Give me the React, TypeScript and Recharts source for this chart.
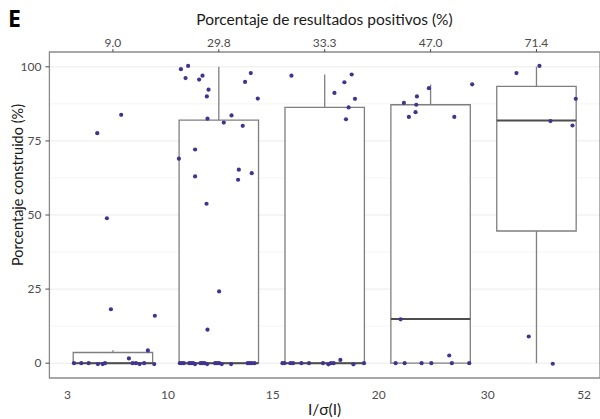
import React from 'react';
import {
  ComposedChart,
  XAxis,
  YAxis,
  CartesianGrid,
  Scatter,
  ReferenceArea,
  ReferenceLine,
} from 'recharts';

// ---- data ----
const categories = [1, 2, 3, 4, 5];
const topLabels = ['9.0', '29.8', '33.3', '47.0', '71.4'];
const bottomTickPos = [0.57, 1.52, 2.51, 3.51, 4.54, 5.45];
const bottomTickLabels = ['3', '10', '15', '20', '30', '52'];
const yTicks = [0, 25, 50, 75, 100];
const yMinorTicks = [12.5, 37.5, 62.5, 87.5];

const boxQ1 = [0, 0, 0, 0, 44.6];
const boxMedian = [0, 0, 0, 14.9, 81.9];
const boxQ3 = [3.6, 82.0, 86.3, 87.2, 93.4];
const whiskerLow = [0, 0, 0, 0, 0];
const whiskerHigh = [4.4, 100, 97.4, 94.0, 100];

// jittered points (x = category position incl. jitter, y = value)
const g1X = [0.852, 1.078, 0.943, 0.981, 1.396, 1.33, 1.151, 0.632, 0.701, 0.771, 0.858, 0.903, 0.925, 1.186, 1.217, 1.252, 1.295, 1.39];
const g1Y = [77.6, 83.8, 48.9, 18.2, 16.0, 4.3, 1.6, 0, 0, 0, -0.3, -0.3, 0, 0, 0, -0.3, 0, -0.3];

const g2X = [1.642, 1.71, 1.686, 1.814, 1.846, 1.903, 1.887, 1.893, 2.047, 2.12, 2.226, 2.302, 2.248, 2.368, 1.623, 1.776, 1.776, 1.884, 2.189, 2.182, 2.311, 2.003, 1.893,
  1.632, 1.651, 1.67, 1.72, 1.739, 1.758, 1.776, 1.827, 1.846, 1.865, 1.89, 1.965, 1.984, 2.003, 2.028, 2.116, 2.273, 2.292, 2.311, 2.337];
const g2Y = [99.2, 100.3, 96.2, 95.7, 97.0, 92.3, 90.0, 82.5, 81.2, 83.6, 80.1, 97.9, 94.9, 89.3, 69.0, 72.1, 63.0, 53.8, 65.3, 61.9, 64.1, 24.2, 11.3,
  0, 0, 0, 0, 0, 0, -0.3, 0, 0, 0, -0.3, 0, 0, 0, -0.3, -0.3, 0, 0, 0, 0];

const g3X = [2.686, 3.255, 3.186, 3.092, 3.286, 3.226, 3.201, 3.148, 2.601, 2.62, 2.676, 2.701, 2.78, 2.852, 2.984, 3.035, 3.059, 3.085, 3.271, 3.371];
const g3Y = [97.0, 97.4, 94.8, 91.2, 89.2, 86.3, 82.3, 1.1, 0, 0, 0, 0, 0, 0, 0, -0.4, 0, 0, -0.4, 0];

const g4X = [3.984, 4.393, 3.871, 3.748, 3.865, 3.858, 3.795, 4.224, 3.717, 4.176, 3.67, 3.755, 3.915, 4.007, 4.201, 4.365];
const g4Y = [92.8, 94.1, 90.0, 87.8, 87.2, 84.7, 83.1, 83.1, 14.8, 2.6, 0, 0, 0, 0, 0, 0];

const g5X = [5.028, 4.811, 5.371, 5.132, 5.34, 4.927, 5.154];
const g5Y = [100.3, 97.9, 89.2, 81.7, 80.2, 9.0, -0.2];

const groupsX = [g1X, g2X, g3X, g4X, g5X];
const groupsY = [g1Y, g2Y, g3Y, g4Y, g5Y];

// ---- styles ----
const BOX_W = 0.375;
const BOX_STROKE = '#7f7f7f';
const MEDIAN_STROKE = '#4d4d4d';
const POINT_COLOR = '#3f3590';
const GRID = '#ebebeb';
const GRID_MINOR = '#f3f3f3';
const TICK_COLOR = '#4d4d4d';
const FONT = 'Lato, "Open Sans", sans-serif';

const Dot = (props: any) => {
  const { cx, cy } = props;
  if (cx == null || cy == null) return null;
  return <circle cx={cx} cy={cy} r={2.1} fill={POINT_COLOR} />;
};

export default function App() {
  const scatterData = groupsX.map((xs, gi) => xs.map((x, i) => ({ x, y: groupsY[gi][i] })));
  return (
    <div style={{ position: 'absolute', left: 0, top: 0, width: 600, height: 419, background: '#fff', fontFamily: FONT, overflow: 'hidden' }}>
      <div style={{ position: 'absolute', left: 8, top: 2, fontSize: 23, fontWeight: 700, fontFamily: '"Open Sans", sans-serif', color: '#000' }}>E</div>
      <div style={{ position: 'absolute', left: 49, width: 551, top: 10, textAlign: 'center', fontSize: 15.5, color: '#1a1a1a' }}>
        Porcentaje de resultados positivos (%)
      </div>
      <div
        style={{
          position: 'absolute',
          left: 17,
          top: 185,
          transform: 'translate(-50%, -50%) rotate(-90deg)',
          whiteSpace: 'nowrap',
          fontSize: 14.5,
          color: '#1a1a1a',
        }}
      >
        Porcentaje construido (%)
      </div>
      <div style={{ position: 'absolute', left: 49, width: 551, top: 401, height: 17, lineHeight: '17px', textAlign: 'center', fontSize: 15.5, color: '#1a1a1a' }}>
        I/σ(I)
      </div>
      <ComposedChart width={600} height={419} margin={{ top: 32, right: 0, bottom: 21, left: 9.4 }}>
        <CartesianGrid horizontalValues={yMinorTicks} vertical={false} stroke={GRID_MINOR} strokeWidth={0.8} />
        <CartesianGrid horizontalValues={yTicks} verticalValues={categories} stroke={GRID} strokeWidth={1} />
        <XAxis
          dataKey="x"
          type="number"
          domain={[0.4, 5.6]}
          ticks={categories}
          tick={false}
          tickLine={{ stroke: TICK_COLOR }}
          tickSize={3}
          axisLine={false}
          height={0}
          allowDataOverflow
        />
        <XAxis
          xAxisId="lab"
          dataKey="x"
          type="number"
          domain={[0.4, 5.6]}
          ticks={bottomTickPos}
          tickFormatter={(v: number) => bottomTickLabels[bottomTickPos.indexOf(v)] ?? ''}
          tick={{ fill: TICK_COLOR, fontSize: 12, fontFamily: FONT }}
          tickLine={false}
          tickMargin={6}
          axisLine={false}
          height={20}
          allowDataOverflow
        />
        <XAxis
          xAxisId="top"
          orientation="top"
          dataKey="x"
          type="number"
          domain={[0.4, 5.6]}
          ticks={categories}
          tickFormatter={(v: number) => topLabels[v - 1]}
          tick={{ fill: TICK_COLOR, fontSize: 12, fontFamily: FONT }}
          tickLine={{ stroke: TICK_COLOR }}
          tickSize={3}
          axisLine={false}
          height={20}
          allowDataOverflow
        />
        <YAxis
          dataKey="y"
          type="number"
          domain={[-5, 105]}
          ticks={yTicks}
          tick={{ fill: TICK_COLOR, fontSize: 12, fontFamily: FONT }}
          tickLine={{ stroke: TICK_COLOR }}
          tickSize={4}
          tickMargin={4}
          axisLine={false}
          width={40}
          allowDataOverflow
        />
        {categories.map((c, i) => (
          <ReferenceLine
            key={'wl' + c}
            segment={[{ x: c, y: whiskerLow[i] }, { x: c, y: boxQ1[i] }]}
            stroke={BOX_STROKE}
            strokeWidth={1.3}
            ifOverflow="visible"
          />
        ))}
        {categories.map((c, i) => (
          <ReferenceLine
            key={'wh' + c}
            segment={[{ x: c, y: boxQ3[i] }, { x: c, y: whiskerHigh[i] }]}
            stroke={BOX_STROKE}
            strokeWidth={1.3}
            ifOverflow="visible"
          />
        ))}
        {categories.map((c, i) => (
          <ReferenceArea
            key={'box' + c}
            x1={c - BOX_W}
            x2={c + BOX_W}
            y1={boxQ1[i]}
            y2={boxQ3[i]}
            fill="#ffffff"
            fillOpacity={1}
            stroke={BOX_STROKE}
            strokeWidth={1.3}
            ifOverflow="visible"
          />
        ))}
        {categories.map((c, i) => (
          <ReferenceLine
            key={'med' + c}
            segment={[{ x: c - BOX_W, y: boxMedian[i] }, { x: c + BOX_W, y: boxMedian[i] }]}
            stroke={MEDIAN_STROKE}
            strokeWidth={2}
            ifOverflow="visible"
          />
        ))}
        <ReferenceArea x1={0.4} x2={5.6} y1={-5} y2={105} fill="none" stroke="#8a8a8a" strokeWidth={1.3} ifOverflow="visible" />
        {scatterData.map((d, gi) => (
          <Scatter key={'g' + gi} data={d} shape={<Dot />} isAnimationActive={false} />
        ))}
      </ComposedChart>
    </div>
  );
}
